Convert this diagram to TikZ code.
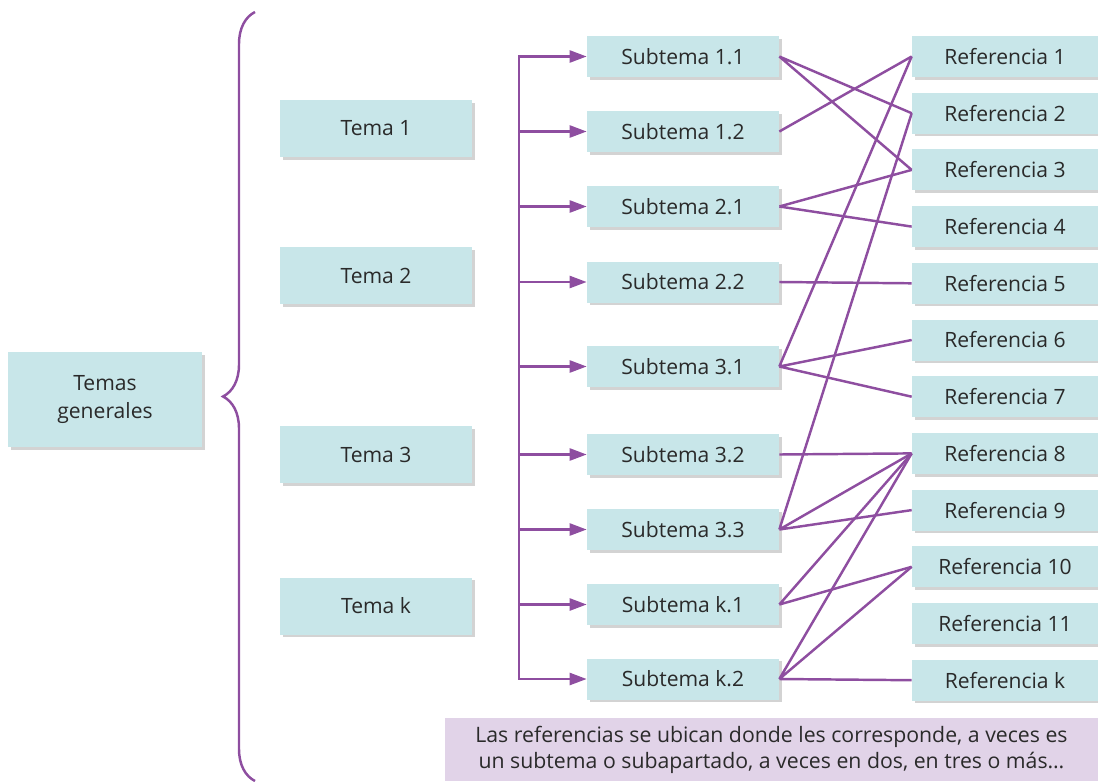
\documentclass[tikz,border=0pt]{standalone}
\usepackage{fontspec}
\setmainfont{Open Sans}
\usetikzlibrary{arrows.meta, positioning, shadows, decorations.pathreplacing}
\usepackage{xcolor}
\definecolor{celeste}{HTML}{C8E6E9}
\definecolor{morado}{HTML}{8E4EA0}
\definecolor{lila}{HTML}{E1D3E8}
\definecolor{texto}{HTML}{2A2A2A}
\tikzset{
  caja/.style={
    fill=celeste, text=texto, align=center, inner sep=2pt,
    font=\fontsize{12}{15.5}\selectfont,
    drop shadow={shadow xshift=1.5pt, shadow yshift=-1.5pt, opacity=0.35}
  },
  cajaGeneral/.style={caja, minimum width=3.88cm, minimum height=1.9cm},
  cajaTema/.style={caja, minimum width=3.84cm, minimum height=1.14cm},
  cajaSub/.style={caja, minimum width=3.84cm, minimum height=0.82cm},
  cajaRef/.style={caja, minimum width=3.72cm, minimum height=0.82cm},
  nota/.style={
    fill=lila, text=texto, align=center, inner sep=2pt,
    font=\fontsize{12.1}{14.7}\selectfont,
    minimum width=13.06cm, minimum height=1.26cm
  },
  linea/.style={draw=morado, line width=1.4pt},
  flecha/.style={linea, -{Triangle[length=0.34cm, width=0.24cm]}},
  llave/.style={linea, decorate, decoration={brace, amplitude=0.64cm}},
}

\begin{document}
\begin{tikzpicture}[x=0.02cm, y=-0.02cm]

\useasboundingbox (0,0) rectangle (1098,781);

% columna izquierda
\node[cajaGeneral] (general) at (105,399.5) {Temas\\generales};
\draw[llave] (255,781) -- (255,12);

\node[cajaTema] (tema1) at (376,128.5) {Tema 1};
\node[cajaTema] (tema2) at (376,275.5) {Tema 2};
\node[cajaTema] (tema3) at (376,454.5) {Tema 3};
\node[cajaTema] (temak) at (376,606) {Tema k};

% subtemas
\node[cajaSub] (sub11) at (683,56.5) {Subtema 1.1};
\node[cajaSub] (sub12) at (683,131.5) {Subtema 1.2};
\node[cajaSub] (sub21) at (683,206.5) {Subtema 2.1};
\node[cajaSub] (sub22) at (683,282) {Subtema 2.2};
\node[cajaSub] (sub31) at (683,366.5) {Subtema 3.1};
\node[cajaSub] (sub32) at (683,454.5) {Subtema 3.2};
\node[cajaSub] (sub33) at (683,529.5) {Subtema 3.3};
\node[cajaSub] (subk1) at (683,604.5) {Subtema k.1};
\node[cajaSub] (subk2) at (683,679) {Subtema k.2};

% referencias
\node[cajaRef] (ref1) at (1005,56.5) {Referencia 1};
\node[cajaRef] (ref2) at (1005,113.2) {Referencia 2};
\node[cajaRef] (ref3) at (1005,169.9) {Referencia 3};
\node[cajaRef] (ref4) at (1005,226.6) {Referencia 4};
\node[cajaRef] (ref5) at (1005,283.3) {Referencia 5};
\node[cajaRef] (ref6) at (1005,340) {Referencia 6};
\node[cajaRef] (ref7) at (1005,396.7) {Referencia 7};
\node[cajaRef] (ref8) at (1005,453.4) {Referencia 8};
\node[cajaRef] (ref9) at (1005,510.1) {Referencia 9};
\node[cajaRef] (ref10) at (1005,566.8) {Referencia 10};
\node[cajaRef] (ref11) at (1005,623.5) {Referencia 11};
\node[cajaRef] (refk) at (1005,680.2) {Referencia k};

\node[nota] (nota) at (771.5,749.5)
{Las referencias se ubican donde les corresponde, a veces es\\
un subtema o subapartado, a veces en dos, en tres o más…};

% eje con flechas
\coordinate (eje) at (519,0);
\draw[linea, line cap=rect] (eje |- sub11) -- (eje |- subk2);
\draw[flecha] (eje |- sub11) -- (sub11.west);
\draw[flecha] (eje |- sub12) -- (sub12.west);
\draw[flecha] (eje |- sub21) -- (sub21.west);
\draw[flecha] (eje |- sub22) -- (sub22.west);
\draw[flecha] (eje |- sub31) -- (sub31.west);
\draw[flecha] (eje |- sub32) -- (sub32.west);
\draw[flecha] (eje |- sub33) -- (sub33.west);
\draw[flecha] (eje |- subk1) -- (subk1.west);
\draw[flecha] (eje |- subk2) -- (subk2.west);

% enlaces subtema - referencia
\draw[linea] (sub11.east) -- (ref2.west) (sub11.east) -- (ref3.west);
\draw[linea] (sub12.east) -- (ref1.west);
\draw[linea] (sub21.east) -- (ref3.west) (sub21.east) -- (ref4.west);
\draw[linea] (sub22.east) -- (ref5.west);
\draw[linea] (sub31.east) -- (ref1.west) (sub31.east) -- (ref6.west)
  (sub31.east) -- (ref7.west);
\draw[linea] (sub32.east) -- (ref8.west);
\draw[linea] (sub33.east) -- (ref2.west) (sub33.east) -- (ref8.west)
  (sub33.east) -- (ref9.west);
\draw[linea] (subk1.east) -- (ref8.west) (subk1.east) -- (ref10.west);
\draw[linea] (subk2.east) -- (ref8.west) (subk2.east) -- (ref10.west)
  (subk2.east) -- (refk.west);

\end{tikzpicture}
\end{document}
